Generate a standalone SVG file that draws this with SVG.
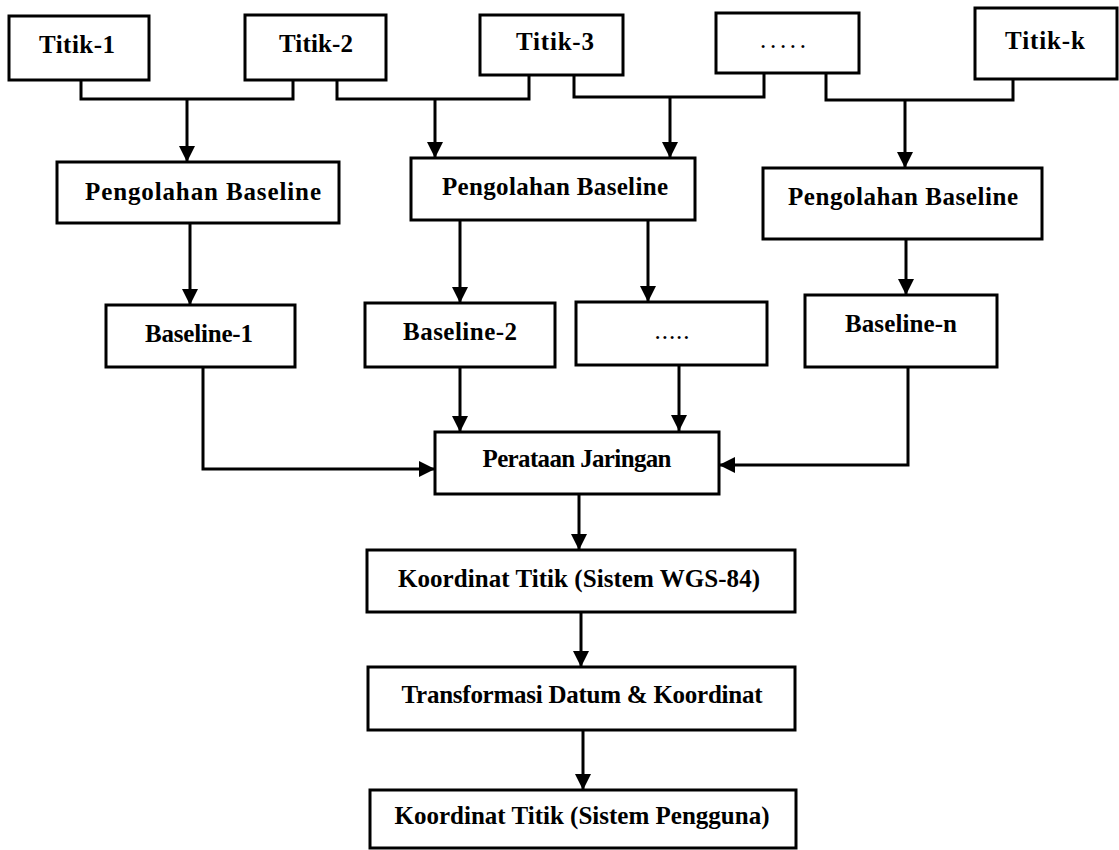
<svg xmlns="http://www.w3.org/2000/svg" width="1119" height="850" viewBox="0 0 1119 850">
<style>
.box{fill:#fff;stroke:#000;stroke-width:3}
.t{font-family:"Liberation Serif","Times New Roman",serif;font-size:25px;font-weight:bold;fill:#000;text-anchor:middle}
.d{font-family:"Liberation Serif","Times New Roman",serif;font-size:25px;fill:#000;text-anchor:middle}
.c{fill:none;stroke:#000;stroke-width:3}
</style>
<defs>
<marker id="ah" markerUnits="userSpaceOnUse" markerWidth="16" markerHeight="16" refX="16" refY="8" orient="auto">
<path d="M0,0 L16,8 L0,16 z" fill="#000"/>
</marker>
</defs>
<rect width="1119" height="850" fill="#fff"/>
<g id="connectors">
<polyline class="c" points="81,80 81,99 293,99 293,80"/>
<path class="c" d="M187,99 V162" marker-end="url(#ah)"/>
<polyline class="c" points="337,80 337,99 529,99 529,75"/>
<path class="c" d="M435,99 V158" marker-end="url(#ah)"/>
<polyline class="c" points="574,75 574,97 764,97 764,73"/>
<path class="c" d="M670,97 V158" marker-end="url(#ah)"/>
<polyline class="c" points="826,73 826,100 1013,100 1013,79"/>
<path class="c" d="M905,100 V168" marker-end="url(#ah)"/>
<path class="c" d="M190,223 V305" marker-end="url(#ah)"/>
<path class="c" d="M460,220 V303" marker-end="url(#ah)"/>
<path class="c" d="M648,220 V302" marker-end="url(#ah)"/>
<path class="c" d="M906,239 V295" marker-end="url(#ah)"/>
<path class="c" d="M203,367 V469 H435" marker-end="url(#ah)"/>
<path class="c" d="M460,367 V432" marker-end="url(#ah)"/>
<path class="c" d="M679,365 V431" marker-end="url(#ah)"/>
<path class="c" d="M908,367 V465 H719" marker-end="url(#ah)"/>
<path class="c" d="M579,494 V550" marker-end="url(#ah)"/>
<path class="c" d="M581,612 V667" marker-end="url(#ah)"/>
<path class="c" d="M583,730 V790" marker-end="url(#ah)"/>
</g>
<g id="titik1"><rect class="box" x="9" y="16" width="140" height="64"/><text class="t" x="77" y="53" textLength="76">Titik-1</text></g>
<g id="titik2"><rect class="box" x="245" y="15" width="141" height="65"/><text class="t" x="316" y="52" textLength="74">Titik-2</text></g>
<g id="titik3"><rect class="box" x="480" y="15" width="143" height="60"/><text class="t" x="555" y="50" textLength="78">Titik-3</text></g>
<g id="dots-top"><rect class="box" x="716" y="13" width="143" height="60"/><text class="d" x="783" y="48" textLength="46">.....</text></g>
<g id="titikk"><rect class="box" x="975" y="8" width="142" height="71"/><text class="t" x="1045" y="49" textLength="80">Titik-k</text></g>
<g id="pengolahan1"><rect class="box" x="57" y="162" width="282" height="61"/><text class="t" x="203" y="200" textLength="236">Pengolahan Baseline</text></g>
<g id="pengolahan2"><rect class="box" x="411" y="158" width="284" height="62"/><text class="t" x="555" y="195" textLength="226">Pengolahan Baseline</text></g>
<g id="pengolahan3"><rect class="box" x="763" y="168" width="279" height="71"/><text class="t" x="903" y="205" textLength="230">Pengolahan Baseline</text></g>
<g id="baseline1"><rect class="box" x="106" y="305" width="189" height="62"/><text class="t" x="199" y="342" textLength="108">Baseline-1</text></g>
<g id="baseline2"><rect class="box" x="365" y="303" width="190" height="64"/><text class="t" x="460" y="340" textLength="114">Baseline-2</text></g>
<g id="dots-mid"><rect class="box" x="576" y="302" width="191" height="63"/><text class="d" x="672" y="339" textLength="35">.....</text></g>
<g id="baselinen"><rect class="box" x="805" y="295" width="192" height="72"/><text class="t" x="901" y="332" textLength="112">Baseline-n</text></g>
<g id="perataan"><rect class="box" x="435" y="432" width="284" height="62"/><text class="t" x="577" y="467" textLength="189">Perataan Jaringan</text></g>
<g id="wgs"><rect class="box" x="367" y="550" width="428" height="62"/><text class="t" x="579" y="587" textLength="362">Koordinat Titik (Sistem WGS-84)</text></g>
<g id="transformasi"><rect class="box" x="368" y="667" width="427" height="63"/><text class="t" x="582" y="703" textLength="361">Transformasi Datum &amp; Koordinat</text></g>
<g id="pengguna"><rect class="box" x="370" y="790" width="426" height="58"/><text class="t" x="582" y="824" textLength="375">Koordinat Titik (Sistem Pengguna)</text></g>
</svg>
